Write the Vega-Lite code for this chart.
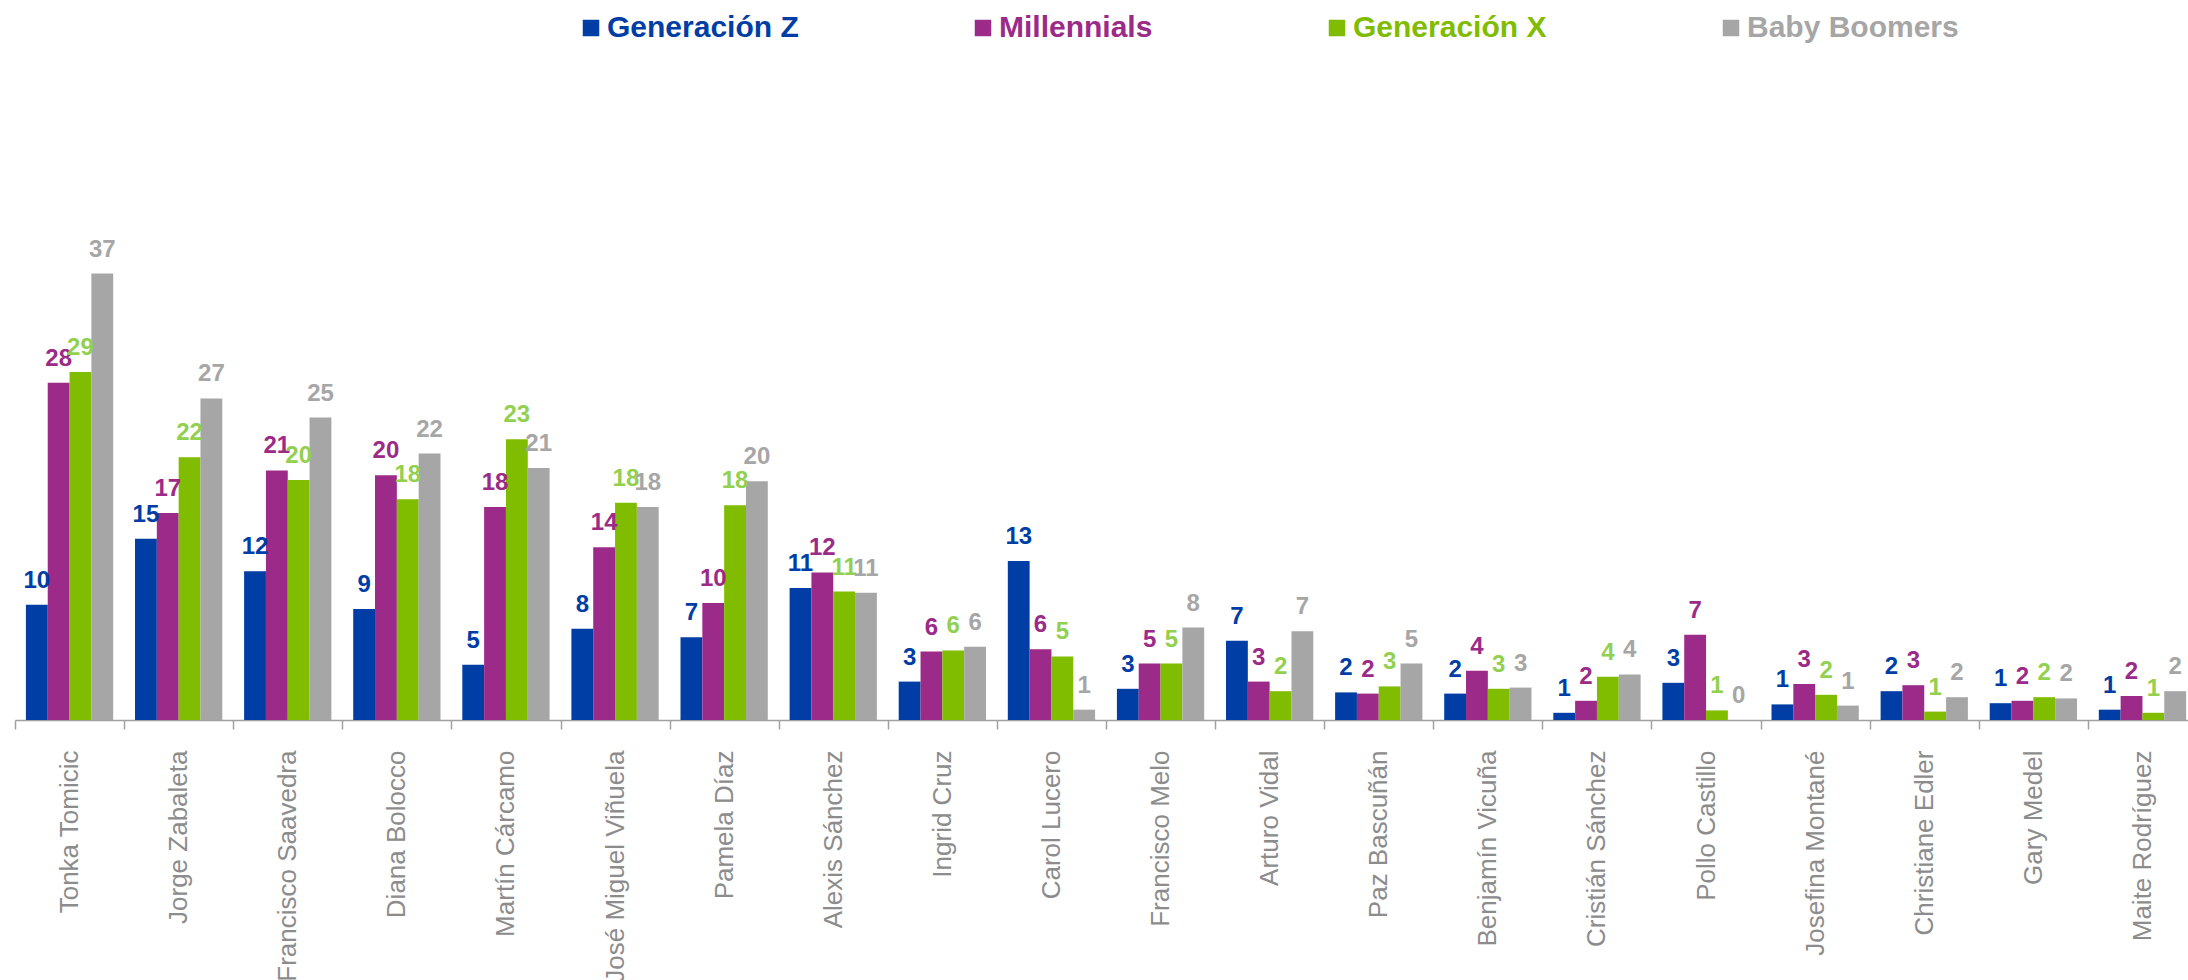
{
  "$schema": "https://vega.github.io/schema/vega-lite/v6.json",
  "autosize": {"type": "none"},
  "padding": {"left": 15, "top": 0, "right": 0, "bottom": 260},
  "width": 2173,
  "height": 720,
  "background": "#ffffff",
  "config": {"view": {"stroke": null}},
  "data": {"values": [
    {"name": "Tonka Tomicic", "gen": "Generación Z", "v": 9.6},
    {"name": "Tonka Tomicic", "gen": "Millennials", "v": 28.1},
    {"name": "Tonka Tomicic", "gen": "Generación X", "v": 29.0},
    {"name": "Tonka Tomicic", "gen": "Baby Boomers", "v": 37.2},
    {"name": "Jorge Zabaleta", "gen": "Generación Z", "v": 15.1},
    {"name": "Jorge Zabaleta", "gen": "Millennials", "v": 17.25},
    {"name": "Jorge Zabaleta", "gen": "Generación X", "v": 21.9},
    {"name": "Jorge Zabaleta", "gen": "Baby Boomers", "v": 26.8},
    {"name": "Francisco Saavedra", "gen": "Generación Z", "v": 12.4},
    {"name": "Francisco Saavedra", "gen": "Millennials", "v": 20.8},
    {"name": "Francisco Saavedra", "gen": "Generación X", "v": 20.0},
    {"name": "Francisco Saavedra", "gen": "Baby Boomers", "v": 25.2},
    {"name": "Diana Bolocco", "gen": "Generación Z", "v": 9.25},
    {"name": "Diana Bolocco", "gen": "Millennials", "v": 20.4},
    {"name": "Diana Bolocco", "gen": "Generación X", "v": 18.4},
    {"name": "Diana Bolocco", "gen": "Baby Boomers", "v": 22.2},
    {"name": "Martín Cárcamo", "gen": "Generación Z", "v": 4.6},
    {"name": "Martín Cárcamo", "gen": "Millennials", "v": 17.75},
    {"name": "Martín Cárcamo", "gen": "Generación X", "v": 23.4},
    {"name": "Martín Cárcamo", "gen": "Baby Boomers", "v": 21.0},
    {"name": "José Miguel Viñuela", "gen": "Generación Z", "v": 7.6},
    {"name": "José Miguel Viñuela", "gen": "Millennials", "v": 14.4},
    {"name": "José Miguel Viñuela", "gen": "Generación X", "v": 18.1},
    {"name": "José Miguel Viñuela", "gen": "Baby Boomers", "v": 17.75},
    {"name": "Pamela Díaz", "gen": "Generación Z", "v": 6.9},
    {"name": "Pamela Díaz", "gen": "Millennials", "v": 9.75},
    {"name": "Pamela Díaz", "gen": "Generación X", "v": 17.9},
    {"name": "Pamela Díaz", "gen": "Baby Boomers", "v": 19.9},
    {"name": "Alexis Sánchez", "gen": "Generación Z", "v": 11.0},
    {"name": "Alexis Sánchez", "gen": "Millennials", "v": 12.3},
    {"name": "Alexis Sánchez", "gen": "Generación X", "v": 10.7},
    {"name": "Alexis Sánchez", "gen": "Baby Boomers", "v": 10.6},
    {"name": "Ingrid Cruz", "gen": "Generación Z", "v": 3.2},
    {"name": "Ingrid Cruz", "gen": "Millennials", "v": 5.7},
    {"name": "Ingrid Cruz", "gen": "Generación X", "v": 5.8},
    {"name": "Ingrid Cruz", "gen": "Baby Boomers", "v": 6.1},
    {"name": "Carol Lucero", "gen": "Generación Z", "v": 13.25},
    {"name": "Carol Lucero", "gen": "Millennials", "v": 5.9},
    {"name": "Carol Lucero", "gen": "Generación X", "v": 5.3},
    {"name": "Carol Lucero", "gen": "Baby Boomers", "v": 0.86},
    {"name": "Francisco Melo", "gen": "Generación Z", "v": 2.6},
    {"name": "Francisco Melo", "gen": "Millennials", "v": 4.7},
    {"name": "Francisco Melo", "gen": "Generación X", "v": 4.7},
    {"name": "Francisco Melo", "gen": "Baby Boomers", "v": 7.7},
    {"name": "Arturo Vidal", "gen": "Generación Z", "v": 6.6},
    {"name": "Arturo Vidal", "gen": "Millennials", "v": 3.2},
    {"name": "Arturo Vidal", "gen": "Generación X", "v": 2.4},
    {"name": "Arturo Vidal", "gen": "Baby Boomers", "v": 7.4},
    {"name": "Paz Bascuñán", "gen": "Generación Z", "v": 2.3},
    {"name": "Paz Bascuñán", "gen": "Millennials", "v": 2.2},
    {"name": "Paz Bascuñán", "gen": "Generación X", "v": 2.8},
    {"name": "Paz Bascuñán", "gen": "Baby Boomers", "v": 4.7},
    {"name": "Benjamín Vicuña", "gen": "Generación Z", "v": 2.2},
    {"name": "Benjamín Vicuña", "gen": "Millennials", "v": 4.1},
    {"name": "Benjamín Vicuña", "gen": "Generación X", "v": 2.6},
    {"name": "Benjamín Vicuña", "gen": "Baby Boomers", "v": 2.7},
    {"name": "Cristián Sánchez", "gen": "Generación Z", "v": 0.6},
    {"name": "Cristián Sánchez", "gen": "Millennials", "v": 1.6},
    {"name": "Cristián Sánchez", "gen": "Generación X", "v": 3.6},
    {"name": "Cristián Sánchez", "gen": "Baby Boomers", "v": 3.8},
    {"name": "Pollo Castillo", "gen": "Generación Z", "v": 3.1},
    {"name": "Pollo Castillo", "gen": "Millennials", "v": 7.1},
    {"name": "Pollo Castillo", "gen": "Generación X", "v": 0.8},
    {"name": "Pollo Castillo", "gen": "Baby Boomers", "v": 0},
    {"name": "Josefina Montané", "gen": "Generación Z", "v": 1.3},
    {"name": "Josefina Montané", "gen": "Millennials", "v": 3.0},
    {"name": "Josefina Montané", "gen": "Generación X", "v": 2.1},
    {"name": "Josefina Montané", "gen": "Baby Boomers", "v": 1.2},
    {"name": "Christiane Edler", "gen": "Generación Z", "v": 2.4},
    {"name": "Christiane Edler", "gen": "Millennials", "v": 2.9},
    {"name": "Christiane Edler", "gen": "Generación X", "v": 0.7},
    {"name": "Christiane Edler", "gen": "Baby Boomers", "v": 1.9},
    {"name": "Gary Medel", "gen": "Generación Z", "v": 1.4},
    {"name": "Gary Medel", "gen": "Millennials", "v": 1.6},
    {"name": "Gary Medel", "gen": "Generación X", "v": 1.9},
    {"name": "Gary Medel", "gen": "Baby Boomers", "v": 1.8},
    {"name": "Maite Rodríguez", "gen": "Generación Z", "v": 0.86},
    {"name": "Maite Rodríguez", "gen": "Millennials", "v": 2.0},
    {"name": "Maite Rodríguez", "gen": "Generación X", "v": 0.6},
    {"name": "Maite Rodríguez", "gen": "Baby Boomers", "v": 2.4}
  ]},
  "encoding": {
    "x": {
      "field": "name", "type": "nominal", "sort": null,
      "scale": {"paddingInner": 0, "paddingOuter": 0, "range": [0, 2182]},
      "axis": {
        "title": null, "labelAngle": -90, "tickBand": "extent",
        "domainColor": "#a0a0a0", "tickColor": "#a0a0a0", "tickSize": 9,
        "domainWidth": 1.5, "tickWidth": 1.5,
        "labelPadding": 21, "labelFont": "Liberation Sans", "labelFontSize": 26,
        "labelColor": "#8c8c8c", "labelLimit": 0, "labelOverlap": false
      }
    },
    "xOffset": {
      "field": "gen", "type": "nominal",
      "sort": ["Generación Z", "Millennials", "Generación X", "Baby Boomers"],
      "scale": {"paddingInner": 0, "paddingOuter": 0.5}
    },
    "y": {
      "field": "v", "type": "quantitative",
      "scale": {"domain": [0, 60], "nice": false, "zero": true},
      "axis": null
    }
  },
  "layer": [
    {
      "mark": {"type": "bar"},
      "encoding": {
        "color": {
          "field": "gen", "type": "nominal",
          "scale": {
            "domain": ["Generación Z", "Millennials", "Generación X", "Baby Boomers"],
            "range": ["#003da5", "#9b2a88", "#80bc00", "#a6a6a6"]
          },
          "legend": {
            "orient": "none", "legendX": 561, "legendY": 13,
            "direction": "horizontal", "title": null, "padding": 0,
            "symbolType": "square", "symbolSize": 272, "symbolStrokeWidth": 0,
            "symbolOpacity": 1,
            "labelFont": "Liberation Sans", "labelFontSize": 30, "labelFontWeight": "bold",
            "labelOffset": 1, "columnPadding": 169, "labelLimit": 0,
            "encode": {"labels": {"update": {"fill": {"scale": "color", "field": "value"}}}}
          }
        }
      }
    },
    {
      "mark": {"type": "text", "baseline": "alphabetic", "align": "center", "dy": -17,
               "font": "Liberation Sans", "fontSize": 24, "fontWeight": "bold"},
      "encoding": {
        "text": {"field": "v", "type": "quantitative", "format": ".0f"},
        "color": {
          "condition": {"test": "datum.gen === 'Generación X'", "value": "#92d050"},
          "field": "gen", "type": "nominal", "legend": null
        }
      }
    }
  ]
}
